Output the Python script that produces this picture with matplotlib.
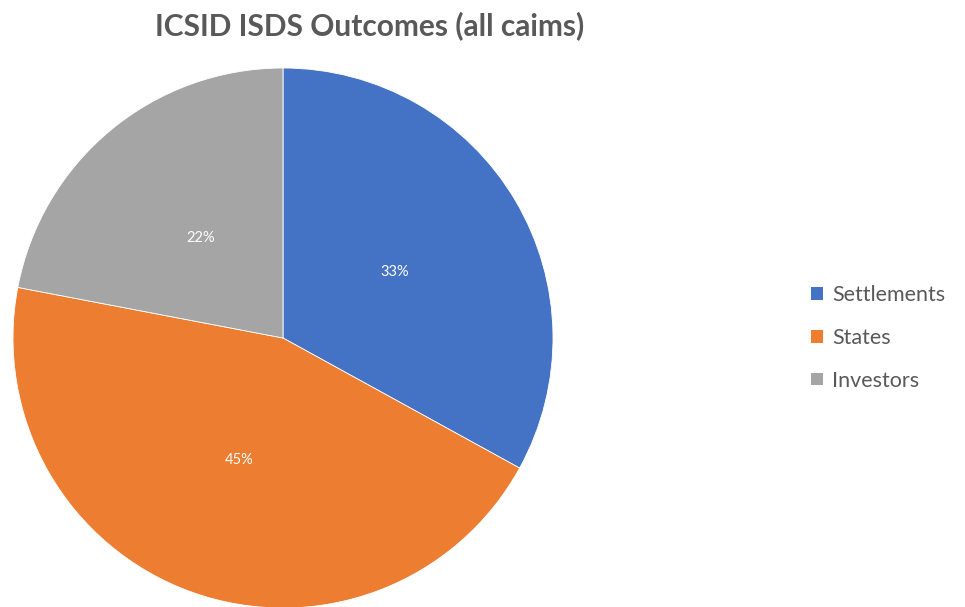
import matplotlib.pyplot as plt
from matplotlib.patches import Patch

# data
labels = ['Settlements', 'States', 'Investors']
shares = [33, 45, 22]
colors = ['#4472C4', '#ED7D31', '#A5A5A5']

plt.rcParams['font.family'] = ['Lato', 'DejaVu Sans']

fig = plt.figure(figsize=(9.65, 6.07), dpi=100)

# pie centred at about (283, 338) px with radius 270 px
W, H = 965, 607
cx, cy, r = 283, 338, 270
ax = fig.add_axes([(cx - r) / W, (H - cy - r) / H, 2 * r / W, 2 * r / H])
wedges, texts, autotexts = ax.pie(
    shares, colors=colors, startangle=90, counterclock=False,
    autopct='%1.0f%%', pctdistance=0.48, radius=1,
    wedgeprops=dict(edgecolor='white', linewidth=0.6),
    textprops=dict(color='white', fontsize=10.5))
for w in wedges:
    w.set_clip_on(False)
ax.set_xlim(-1, 1)
ax.set_ylim(-1, 1)
ax.set_aspect('equal')
ax.axis('off')

fig.text(370 / W, 1 - 26 / H, 'ICSID ISDS Outcomes (all caims)',
         ha='center', va='center', fontsize=21.5, fontweight='bold',
         color='#595959')

handles = [Patch(facecolor=c, label=l) for c, l in zip(colors, labels)]
fig.legend(handles=handles, loc='center left',
           bbox_to_anchor=(792 / W, 1 - 338 / H), frameon=False,
           fontsize=15.5, labelcolor='#595959', handlelength=0.55,
           handleheight=0.55, handletextpad=0.4, labelspacing=1.05)

fig.savefig('out.png', dpi=100)
